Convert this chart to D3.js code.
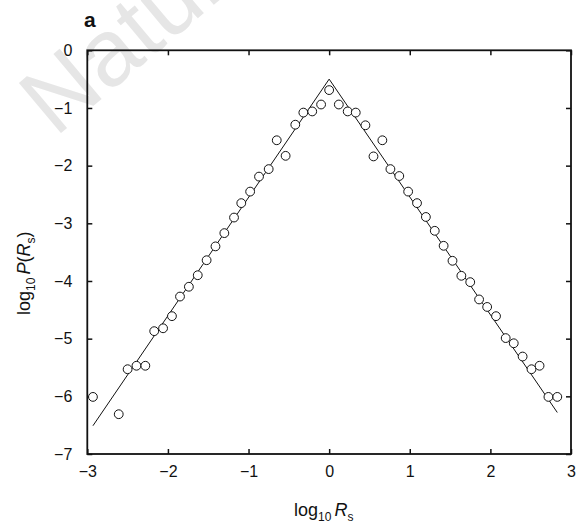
<!DOCTYPE html>
<html>
<head>
<meta charset="utf-8">
<script src="https://cdn.jsdelivr.net/npm/d3@7"></script>
<style>
  html, body { margin: 0; padding: 0; background: #fff; }
  svg { display: block; font-family: "Liberation Sans", Arial, sans-serif; }
</style>
</head>
<body>
<svg id="chart" width="578" height="523"></svg>
<script>
// ---- data ----
const xValues = [-2.93, -2.61, -2.50, -2.39, -2.28, -2.17, -2.06, -1.95, -1.85, -1.74,
  -1.63, -1.52, -1.41, -1.30, -1.18, -1.09, -0.98, -0.87, -0.75, -0.65,
  -0.54, -0.42, -0.32, -0.21, -0.10, 0.00, 0.12, 0.23, 0.33, 0.45,
  0.55, 0.66, 0.76, 0.87, 0.98, 1.09, 1.20, 1.31, 1.42, 1.53,
  1.64, 1.75, 1.86, 1.96, 2.07, 2.19, 2.29, 2.40, 2.51, 2.61,
  2.72, 2.83];
const yValues = [-6.01, -6.31, -5.53, -5.47, -5.47, -4.87, -4.82, -4.61, -4.27, -4.10,
  -3.90, -3.64, -3.40, -3.17, -2.90, -2.65, -2.45, -2.19, -2.06, -1.56,
  -1.83, -1.29, -1.08, -1.06, -0.94, -0.69, -0.94, -1.06, -1.08, -1.30,
  -1.84, -1.56, -2.06, -2.18, -2.45, -2.65, -2.89, -3.13, -3.39, -3.65,
  -3.91, -4.02, -4.32, -4.45, -4.61, -4.99, -5.08, -5.31, -5.53, -5.47,
  -6.01, -6.01];
const fitX = [-2.93, 0.00, 2.83];
const fitY = [-6.51, -0.50, -6.28];
const xTicks = [-3, -2, -1, 0, 1, 2, 3];
const yTicks = [0, -1, -2, -3, -4, -5, -6, -7];

// ---- layout ----
const svg = d3.select("#chart");
const pLeft = 87.3, pRight = 571, pTop = 50.3, pBottom = 454;

const x = d3.scaleLinear().domain([-3, 3]).range([pLeft, pRight]);
const y = d3.scaleLinear().domain([-7, 0]).range([pBottom, pTop]);

// watermark
svg.append("text")
  .attr("transform", "translate(55,138) rotate(-40)")
  .attr("font-size", 95)
  .attr("fill", "#e6e6e6")
  .text("Nature");

// axes (ticks pointing inward)
const fmt = d3.format("");
svg.append("g").attr("transform", `translate(0,${pBottom})`)
  .call(d3.axisBottom(x).tickValues(xTicks).tickFormat(fmt).tickSizeInner(-5).tickSizeOuter(0).tickPadding(12))
  .call(g => g.select(".domain").remove());
svg.append("g").attr("transform", `translate(0,${pTop})`)
  .call(d3.axisTop(x).tickValues(xTicks).tickFormat("").tickSizeInner(-5).tickSizeOuter(0))
  .call(g => g.select(".domain").remove());
svg.append("g").attr("transform", `translate(${pLeft},0)`)
  .call(d3.axisLeft(y).tickValues(yTicks).tickFormat(fmt).tickSizeInner(-5).tickSizeOuter(0).tickPadding(15))
  .call(g => g.select(".domain").remove());
svg.append("g").attr("transform", `translate(${pRight},0)`)
  .call(d3.axisRight(y).tickValues(yTicks).tickFormat("").tickSizeInner(-5).tickSizeOuter(0))
  .call(g => g.select(".domain").remove());

svg.selectAll(".tick line").attr("stroke", "#111").attr("stroke-width", 1.5);
svg.selectAll(".tick text").attr("font-size", 16).attr("fill", "#111")
  .attr("font-family", "Liberation Sans, Arial, sans-serif");

// frame
svg.append("rect")
  .attr("x", pLeft).attr("y", pTop)
  .attr("width", pRight - pLeft).attr("height", pBottom - pTop)
  .attr("fill", "none").attr("stroke", "#111").attr("stroke-width", 1.8);

// fit line
const line = d3.line().x(d => x(d[0])).y(d => y(d[1]));
svg.append("path")
  .datum(fitX.map((v, i) => [v, fitY[i]]))
  .attr("d", line)
  .attr("fill", "none").attr("stroke", "#111").attr("stroke-width", 1);

// points
svg.append("g").selectAll("circle")
  .data(xValues.map((v, i) => [v, yValues[i]]))
  .join("circle")
  .attr("cx", d => x(d[0])).attr("cy", d => y(d[1]))
  .attr("r", 4.4)
  .attr("fill", "#fff").attr("stroke", "#111").attr("stroke-width", 1);

// panel label
svg.append("text").attr("x", 84).attr("y", 27)
  .attr("font-size", 21).attr("font-weight", "bold").attr("fill", "#111").text("a");

// x-axis title
const xt = svg.append("text").attr("x", 294).attr("y", 516).attr("font-size", 18).attr("fill", "#111");
xt.append("tspan").text("log");
xt.append("tspan").attr("font-size", 12).attr("dy", 5).text("10");
xt.append("tspan").attr("dy", -5).attr("dx", 3).attr("font-style", "italic").text("R");
xt.append("tspan").attr("font-size", 12).attr("dy", 5).text("s");

// y-axis title
const yt = svg.append("text").attr("transform", "translate(30,315) rotate(-90)")
  .attr("font-size", 18).attr("fill", "#111");
yt.append("tspan").text("log");
yt.append("tspan").attr("font-size", 12).attr("dy", 5).text("10");
yt.append("tspan").attr("dy", -5).attr("dx", 3).attr("font-style", "italic").text("P");
yt.append("tspan").text("(");
yt.append("tspan").attr("font-style", "italic").text("R");
yt.append("tspan").attr("font-size", 12).attr("dy", 5).text("s");
yt.append("tspan").attr("dy", -5).text(")");
</script>
</body>
</html>
